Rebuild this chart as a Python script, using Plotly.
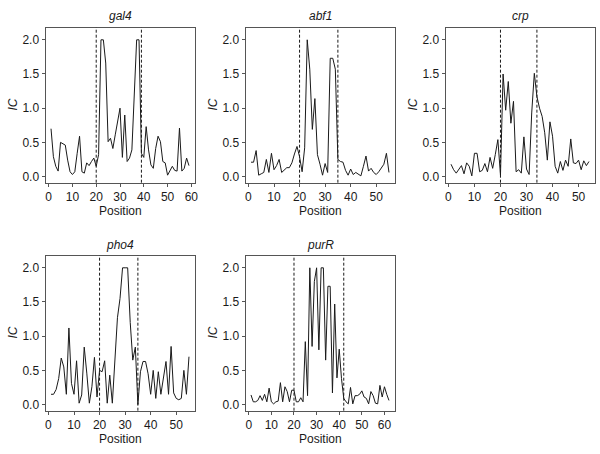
import plotly.graph_objects as go

# ---- data ----
panel_names = ["gal4", "abf1", "crp", "pho4", "purR"]

gal4_ic = [0.70, 0.29, 0.15, 0.08, 0.50, 0.48, 0.46, 0.24, 0.07, 0.03,
           0.07, 0.34, 0.59, 0.07, 0.05, 0.20, 0.16, 0.22, 0.27, 0.15,
           0.32, 2.00, 2.00, 1.66, 0.51, 0.56, 0.41, 0.61, 0.78, 1.00,
           0.28, 0.90, 0.22, 0.27, 0.39, 1.32, 2.00, 2.00, 0.34, 0.28,
           0.73, 0.39, 0.17, 0.12, 0.41, 0.59, 0.51, 0.22, 0.20, 0.02,
           0.08, 0.15, 0.09, 0.08, 0.71, 0.08, 0.12, 0.27, 0.16]

abf1_ic = [0.21, 0.21, 0.38, 0.02, 0.04, 0.06, 0.25, 0.06, 0.34, 0.10,
           0.16, 0.25, 0.06, 0.10, 0.13, 0.13, 0.20, 0.33, 0.44, 0.29,
           0.07, 0.42, 2.00, 1.57, 0.69, 1.14, 0.32, 0.18, 0.02, 0.19,
           0.06, 1.73, 1.73, 1.57, 0.25, 0.22, 0.21, 0.09, 0.02, 0.11,
           0.03, 0.06, 0.04, 0.01, 0.15, 0.30, 0.08, 0.12, 0.06, 0.03,
           0.07, 0.12, 0.18, 0.34, 0.06]

crp_ic = [0.18, 0.10, 0.05, 0.10, 0.16, 0.04, 0.20, 0.15, 0.01, 0.34,
          0.34, 0.07, 0.09, 0.19, 0.07, 0.28, 0.12, 0.32, 0.54, 0.02,
          1.50, 0.97, 1.39, 0.78, 1.10, 0.07, 0.10, 0.05, 0.58, 0.11,
          0.03, 0.93, 1.51, 1.17, 1.00, 0.88, 0.64, 0.24, 0.80, 0.59,
          0.15, 0.05, 0.22, 0.09, 0.24, 0.15, 0.55, 0.20, 0.19, 0.24,
          0.10, 0.23, 0.16, 0.22]

pho4_ic = [0.15, 0.15, 0.22, 0.38, 0.68, 0.55, 0.15, 1.12, 0.31, 0.15,
           0.64, 0.02, 0.14, 0.84, 0.46, 0.02, 0.26, 0.69, 0.11, 0.50,
           0.48, 0.64, 0.02, 0.43, 0.02, 0.70, 1.27, 1.55, 2.00, 2.00,
           2.00, 1.20, 0.65, 0.84, 0.00, 0.48, 0.63, 0.63, 0.45, 0.15,
           0.50, 0.09, 0.48, 0.15, 0.36, 0.63, 0.15, 0.85, 0.17, 0.09,
           0.07, 0.09, 0.50, 0.15, 0.70]

purR_ic = [0.14, 0.04, 0.04, 0.06, 0.13, 0.06, 0.15, 0.04, 0.24, 0.04,
           0.01, 0.04, 0.05, 0.32, 0.04, 0.26, 0.19, 0.04, 0.21, 0.21,
           0.04, 0.04, 0.10, 0.04, 0.92, 0.13, 2.00, 0.85, 1.80, 2.00,
           0.80, 2.00, 2.00, 0.65, 1.73, 1.73, 0.17, 1.47, 0.39, 0.81,
           0.38, 0.09, 0.04, 0.01, 0.25, 0.01, 0.13, 0.13, 0.15, 0.20,
           0.11, 0.09, 0.01, 0.19, 0.13, 0.02, 0.01, 0.28, 0.11, 0.26,
           0.15, 0.06]

site_start = [20, 20, 20, 20, 20]
site_end = [39, 35, 34, 35, 42]

x_ticks_by_panel = [[0, 10, 20, 30, 40, 50, 60],
                    [0, 10, 20, 30, 40, 50],
                    [0, 10, 20, 30, 40, 50],
                    [0, 10, 20, 30, 40, 50],
                    [0, 10, 20, 30, 40, 50, 60]]
y_ticks = [0.0, 0.5, 1.0, 1.5, 2.0]
x_label = "Position"
y_label = "IC"

series = [gal4_ic, abf1_ic, crp_ic, pho4_ic, purR_ic]

# ---- layout geometry ----
W, H = 600, 454
FONT = "Liberation Sans, Arial, Helvetica, sans-serif"
BOX = "#555555"
INK = "#1a1a1a"

fig = go.Figure()
layout = dict(
    width=W, height=H,
    margin=dict(l=0, r=0, t=0, b=0),
    paper_bgcolor="white", plot_bgcolor="white",
    showlegend=False,
    font=dict(family=FONT, size=12, color=INK),
    shapes=[], annotations=[],
)

for i, (name, vals) in enumerate(zip(panel_names, series)):
    r, c = divmod(i, 3)
    n = len(vals)
    xs = list(range(1, n + 1))
    ax = "" if i == 0 else str(i + 1)
    xref, yref = "x" + ax, "y" + ax

    left = 45.5 + 200 * c
    right = 194.5 + 200 * c
    top = 27.5 + 228 * r
    bottom = 182.7 + 228 * r

    fig.add_trace(go.Scatter(x=xs, y=vals, mode="lines",
                             line=dict(color=INK, width=1),
                             xaxis=xref, yaxis=yref, hoverinfo="skip"))

    pad = 0.04 * (n - 1)
    layout["xaxis" + ax] = dict(
        domain=[left / W, right / W], anchor=yref,
        range=[1 - pad, n + pad],
        tickvals=x_ticks_by_panel[i], ticks="outside", ticklen=3,
        tickcolor=BOX, tickwidth=1,
        showline=True, linecolor=BOX, linewidth=1, mirror=True,
        showgrid=False, zeroline=False, automargin=False,
        tickfont=dict(size=12, color=INK, family=FONT),
    )
    layout["yaxis" + ax] = dict(
        domain=[1 - bottom / H, 1 - top / H], anchor=xref,
        range=[-0.09, 2.18],
        tickvals=y_ticks, tickformat=".1f", ticks="outside", ticklen=3,
        tickcolor=BOX, tickwidth=1,
        showline=True, linecolor=BOX, linewidth=1, mirror=True,
        showgrid=False, zeroline=False, automargin=False,
        tickfont=dict(size=12, color=INK, family=FONT),
    )

    for xv in (site_start[i], site_end[i]):
        layout["shapes"].append(dict(
            type="line", xref=xref, yref=yref + " domain",
            x0=xv, x1=xv, y0=0, y1=1,
            line=dict(color=INK, width=1, dash="3px,2px"),
        ))

    layout["annotations"].append(dict(
        text="<i>" + name + "</i>", xref=xref + " domain", yref=yref + " domain",
        x=0.5, y=1, yanchor="middle", xanchor="center", yshift=11,
        showarrow=False, font=dict(size=12, color=INK, family=FONT),
    ))
    layout["annotations"].append(dict(
        text=x_label, xref=xref + " domain", yref=yref + " domain",
        x=0.5, y=0, yanchor="middle", xanchor="center", yshift=-28.5,
        showarrow=False, font=dict(size=12, color=INK, family=FONT),
    ))
    layout["annotations"].append(dict(
        text="<i>" + y_label + "</i>", xref=xref + " domain", yref=yref + " domain",
        x=0, y=0.5, xanchor="center", yanchor="middle", xshift=-32,
        textangle=-90, showarrow=False,
        font=dict(size=12, color=INK, family=FONT),
    ))

fig.update_layout(**layout)
fig.write_html(
    "out.html",
    config={"displayModeBar": False},
    post_script="document.body.style.margin='0';document.body.style.padding='0';",
)
